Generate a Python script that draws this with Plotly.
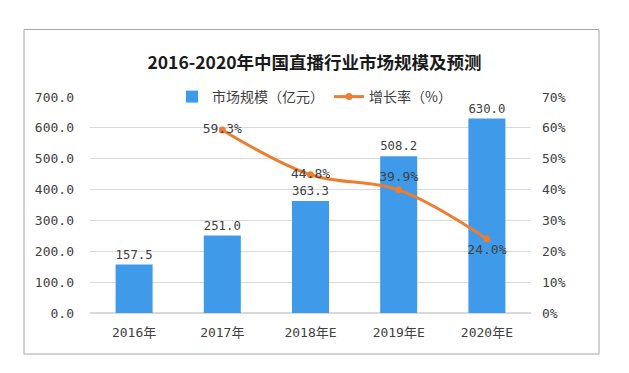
import plotly.graph_objects as go

categories = ["2016年", "2017年", "2018年E", "2019年E", "2020年E"]
market_size = [157.5, 251.0, 363.3, 508.2, 630.0]
growth_cats = ["2017年", "2018年E", "2019年E", "2020年E"]
growth_rate = [59.3, 44.8, 39.9, 24.0]
growth_text_pos = ["middle center", "middle center", "top center", "bottom center"]
left_ticks = [0, 100, 200, 300, 400, 500, 600, 700]
right_ticks = [0, 10, 20, 30, 40, 50, 60, 70]

W, H = 629, 373
num_font = "DejaVu Sans Mono, Noto Sans CJK SC"
cjk_font = "Noto Sans CJK SC"

fig = go.Figure()
fig.add_trace(go.Bar(
    x=categories, y=market_size, name="市场规模（亿元）",
    marker=dict(color="#3F9BEA", line=dict(width=0)),
    text=[f"{v:.1f}" for v in market_size], textposition="outside",
    textfont=dict(family=num_font, size=13, color="#404040"),
    cliponaxis=False,
))
fig.add_trace(go.Scatter(
    x=growth_cats, y=growth_rate, name="增长率（%）", yaxis="y2",
    mode="lines+markers+text",
    line=dict(color="#ED7D31", width=3, shape="spline"),
    marker=dict(color="#ED7D31", size=7),
    text=[f"{v:.1f}%" for v in growth_rate], textposition=growth_text_pos,
    textfont=dict(family=num_font, size=13, color="#404040"),
    cliponaxis=False,
))

py = lambda y: (H - y) / H
px = lambda x: x / W

fig.update_layout(
    width=W, height=H,
    margin=dict(l=0, r=0, t=0, b=0, autoexpand=False),
    paper_bgcolor="white", plot_bgcolor="white",
    showlegend=True,
    title=dict(text="<b>2016-2020年中国直播行业市场规模及预测</b>",
               x=0.5, xanchor="center", y=py(63), yanchor="middle",
               font=dict(family=cjk_font, size=17.5, color="#1a1a1a")),
    legend=dict(orientation="h", x=0.5, xanchor="center", y=py(97), yanchor="middle",
                font=dict(family=cjk_font, size=14, color="#404040"),
                bgcolor="rgba(0,0,0,0)", itemwidth=30, traceorder="normal"),
    bargap=0.58,
    xaxis=dict(domain=[px(90), px(531)], showgrid=False, showline=False, zeroline=False,
               ticks="", tickfont=dict(family=num_font, size=13, color="#404040"),
               ticklabelstandoff=10),
    yaxis=dict(domain=[py(313), py(97)], range=[0, 700], tickvals=left_ticks,
               ticktext=[f"{v:.1f}" for v in left_ticks],
               showgrid=True, gridcolor="#D9D9D9", gridwidth=1,
               zeroline=True, zerolinecolor="#D9D9D9", showline=False, ticks="",
               tickfont=dict(family=num_font, size=13, color="#404040"),
               ticklabelstandoff=15),
    yaxis2=dict(overlaying="y", side="right", range=[0, 70], tickvals=right_ticks,
                ticktext=[f"{v}%" for v in right_ticks],
                showgrid=False, zeroline=False, showline=False, ticks="",
                tickfont=dict(family=num_font, size=13, color="#404040"),
                ticklabelstandoff=10),
    shapes=[dict(type="rect", xref="paper", yref="paper",
                 x0=px(24), x1=px(599), y0=py(354), y1=py(29.5),
                 line=dict(color="#A6A6A6", width=1), fillcolor="rgba(0,0,0,0)",
                 layer="below")],
)

fig.write_html("out.html", config={"displayModeBar": False},
               post_script="document.body.style.margin='0px';document.body.style.overflow='hidden';")
